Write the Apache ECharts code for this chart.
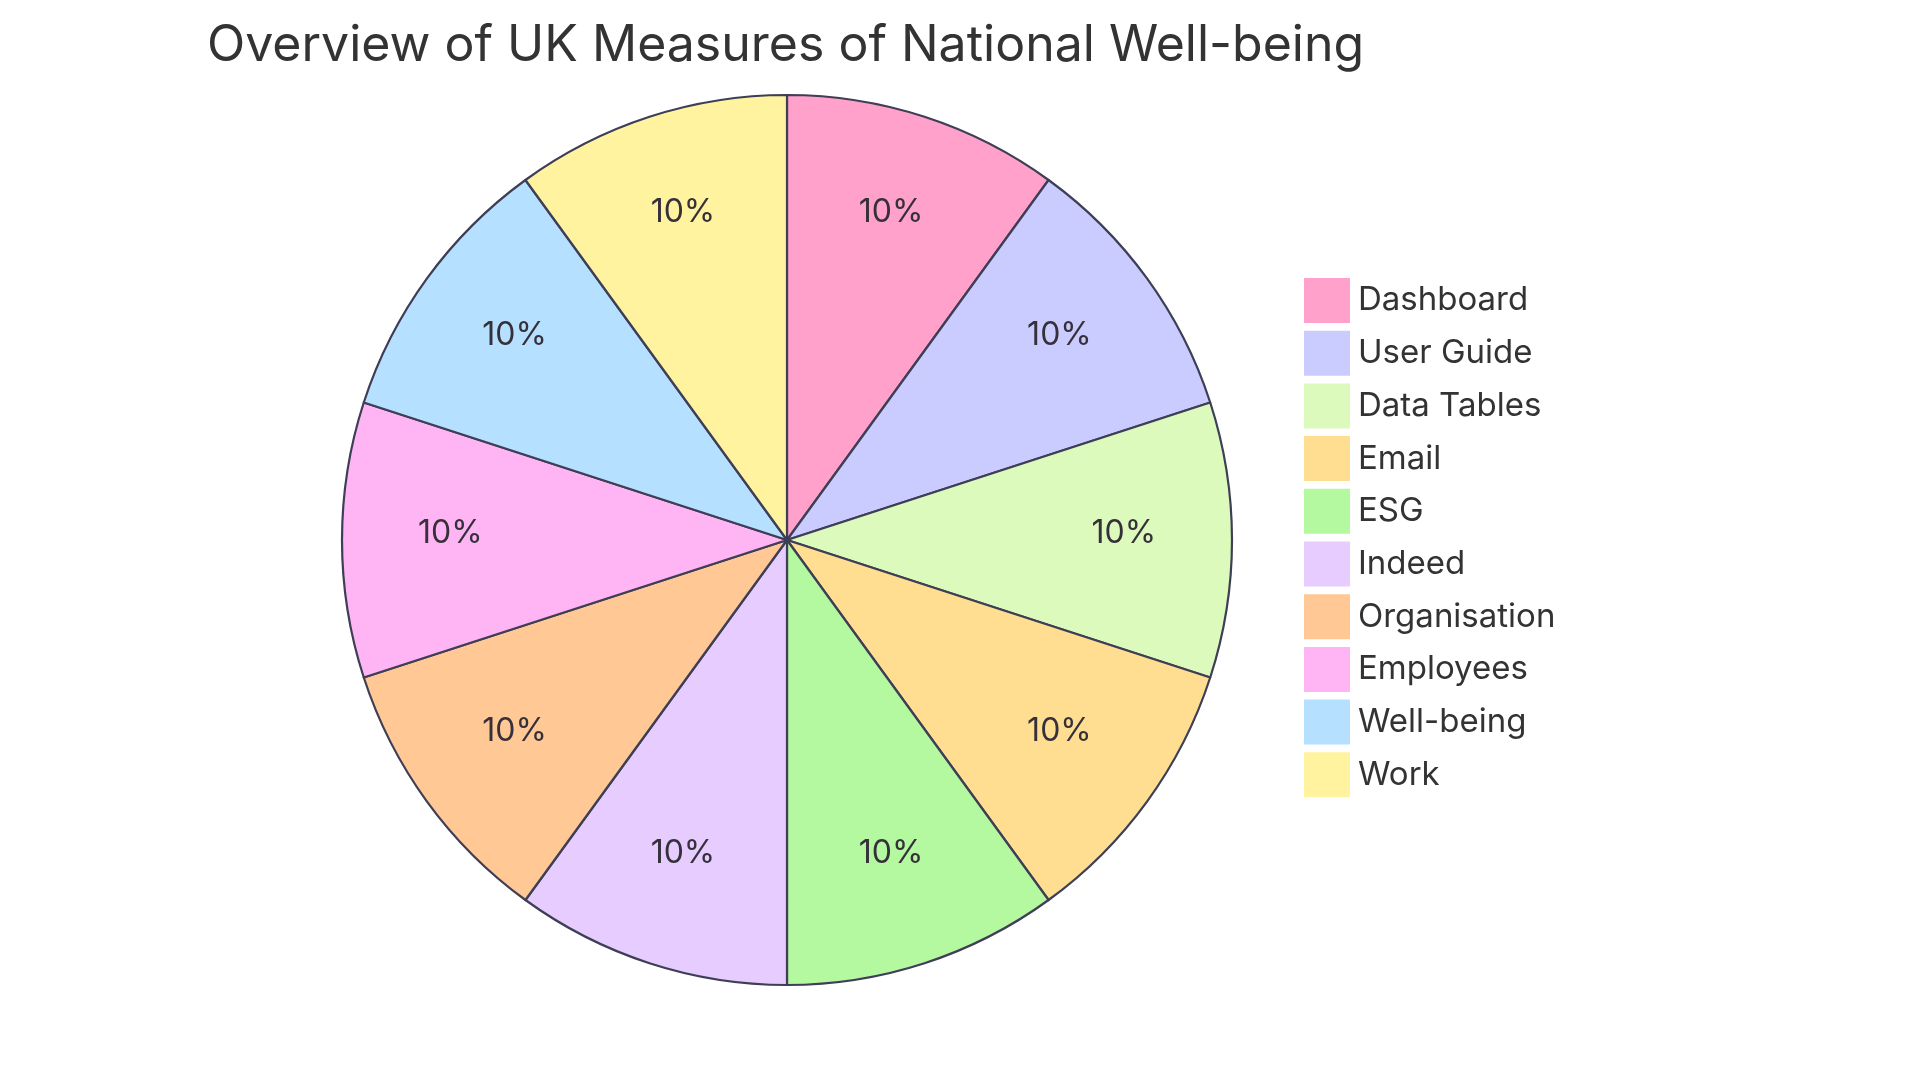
<!DOCTYPE html>
<html>
<head>
<meta charset="utf-8">
<script src="https://cdn.jsdelivr.net/npm/echarts@6/dist/echarts.min.js"></script>
<style>html,body{margin:0;padding:0;background:#fff;}#c{width:1920px;height:1080px;}</style>
</head>
<body>
<div id="c"></div>
<script>
const titleText = 'Overview of UK Measures of National Well-being';
const categories = ['Dashboard','User Guide','Data Tables','Email','ESG','Indeed','Organisation','Employees','Well-being','Work'];
const values = [10,10,10,10,10,10,10,10,10,10];
const colors = ['#FFA1CB','#CACBFF','#DBFABB','#FFDE92','#B4F8A0','#E6CCFF','#FFC894','#FFB5F4','#B6E0FF','#FFF3A0'];

const data = categories.map((n,i)=>({name:n,value:values[i],itemStyle:{color:colors[i]}}));
const R = 445;
const chart = echarts.init(document.getElementById('c'));
chart.setOption({
  animation:false,
  title:{text:titleText,left:202,top:16,textStyle:{fontFamily:'Inter',fontWeight:400,fontSize:50,color:'#333333'}},
  legend:{orient:'vertical',left:1299,top:273,itemWidth:46,itemHeight:45,itemGap:7.7,icon:'rect',
    itemStyle:{borderWidth:0},
    textStyle:{fontFamily:'Inter',fontSize:33,lineHeight:40,color:'#333333',padding:[0,0,0,3]},
    data:categories},
  series:[
    {type:'pie',center:[787,540],radius:[0,R],startAngle:90,clockwise:true,
     label:{show:false},labelLine:{show:false},
     itemStyle:{borderColor:'#3e3e56',borderWidth:2.2},
     data:data},
    {type:'pie',center:[787,540],radius:[0.5*R,R],startAngle:90,clockwise:true,silent:true,
     legendHoverLink:false,
     itemStyle:{color:'rgba(0,0,0,0)',borderWidth:0},
     label:{show:true,position:'inside',fontFamily:'Inter',fontSize:32,color:'#35303a',offset:[0,-7],
       formatter:p=>Math.round(p.percent)+'%'},
     labelLine:{show:false},
     data:categories.map((n,i)=>({name:n+' ',value:values[i]}))}
  ]
});
</script>
</body>
</html>
